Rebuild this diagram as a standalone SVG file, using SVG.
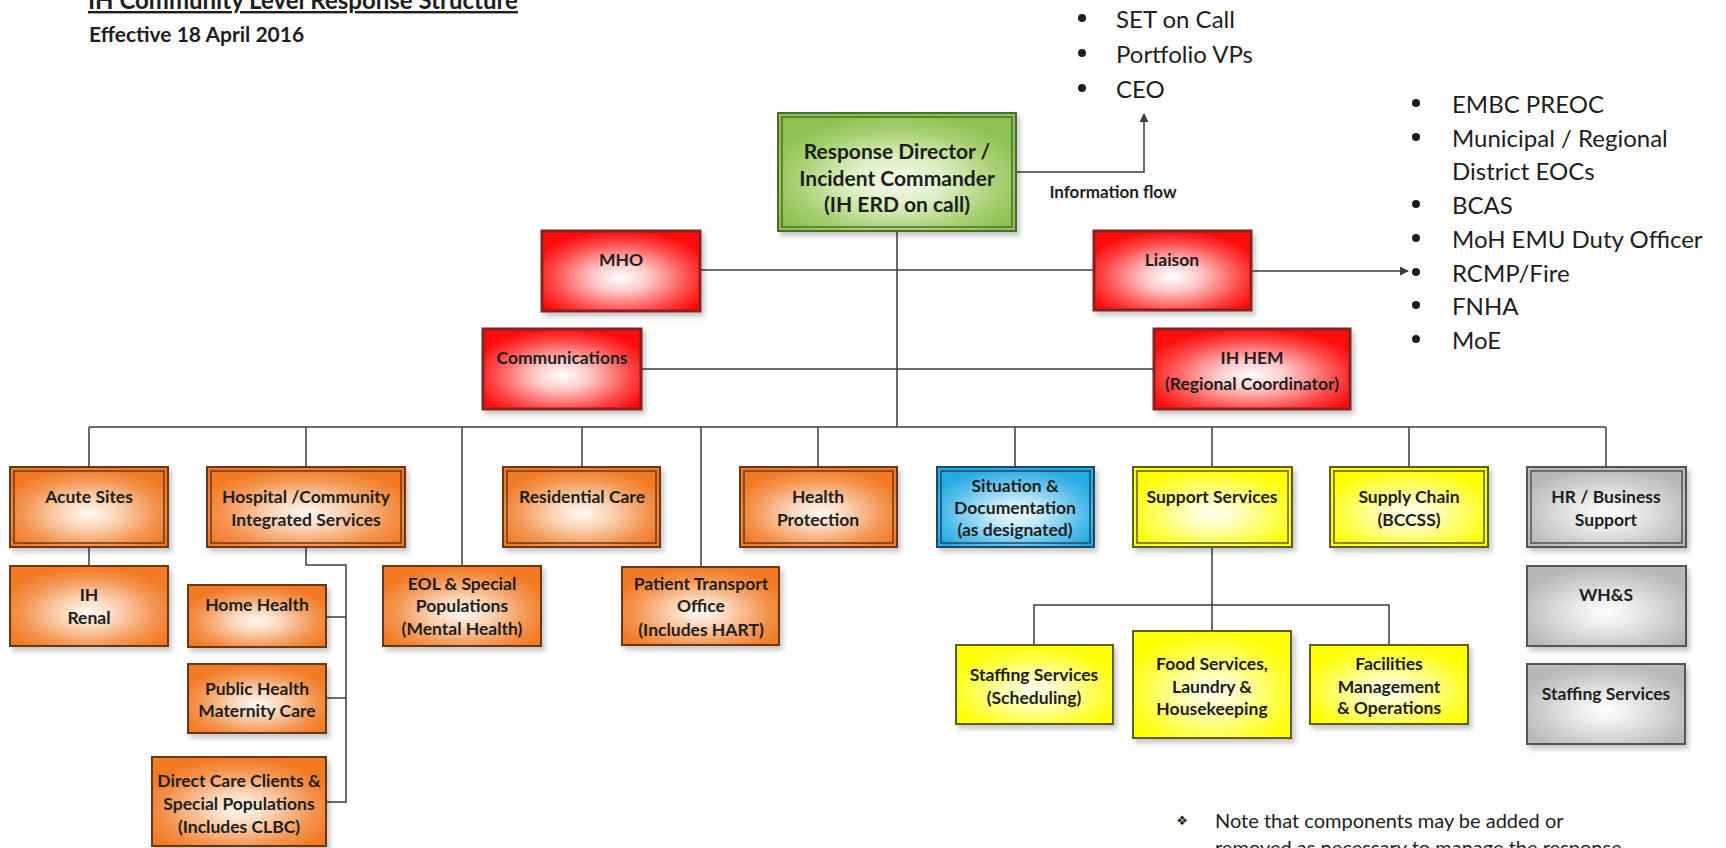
<svg xmlns="http://www.w3.org/2000/svg" width="1726" height="848" viewBox="0 0 1726 848">
<defs>
  <radialGradient id="gGreen" cx="50%" cy="58%" r="58%">
    <stop offset="0" stop-color="#f6fbef"/>
    <stop offset="0.35" stop-color="#dcefc2"/>
    <stop offset="0.75" stop-color="#a6d070"/>
    <stop offset="1" stop-color="#8cc152"/>
  </radialGradient>
  <radialGradient id="gRed" cx="50%" cy="58%" r="58%">
    <stop offset="0" stop-color="#ffffff"/>
    <stop offset="0.3" stop-color="#ffcaca"/>
    <stop offset="0.75" stop-color="#ff4848"/>
    <stop offset="1" stop-color="#ff1010"/>
  </radialGradient>
  <radialGradient id="gOrange" cx="50%" cy="58%" r="58%">
    <stop offset="0" stop-color="#fffaf5"/>
    <stop offset="0.3" stop-color="#fbd6ba"/>
    <stop offset="0.75" stop-color="#f4924c"/>
    <stop offset="1" stop-color="#f27a24"/>
  </radialGradient>
  <radialGradient id="gBlue" cx="50%" cy="58%" r="58%">
    <stop offset="0" stop-color="#f2fbfe"/>
    <stop offset="0.3" stop-color="#bfe8f9"/>
    <stop offset="0.75" stop-color="#52bdea"/>
    <stop offset="1" stop-color="#28aae2"/>
  </radialGradient>
  <radialGradient id="gYellow" cx="50%" cy="58%" r="58%">
    <stop offset="0" stop-color="#fffff2"/>
    <stop offset="0.3" stop-color="#ffffb8"/>
    <stop offset="0.75" stop-color="#ffff3c"/>
    <stop offset="1" stop-color="#ffff00"/>
  </radialGradient>
  <radialGradient id="gGray" cx="50%" cy="58%" r="58%">
    <stop offset="0" stop-color="#ffffff"/>
    <stop offset="0.3" stop-color="#ececec"/>
    <stop offset="0.75" stop-color="#cacaca"/>
    <stop offset="1" stop-color="#b8b8b8"/>
  </radialGradient>
  <filter id="shadow" x="-10%" y="-10%" width="125%" height="130%">
    <feDropShadow dx="3" dy="4" stdDeviation="2.5" flood-color="#000" flood-opacity="0.22"/>
  </filter>
  <marker id="arrow" viewBox="0 0 10 10" refX="9" refY="5" markerWidth="9" markerHeight="9" markerUnits="userSpaceOnUse" orient="auto">
    <path d="M0,0 L10,5 L0,10 Z" fill="#3c3c3c"/>
  </marker>
</defs>
<style>
  .t { font-family: Lato, "Liberation Sans", sans-serif; font-weight: 700; font-size: 17.5px; fill: #1e1e1e; text-anchor: middle; dominant-baseline: central; }
  .big { font-size: 21px; }
  .list { font-family: Lato, "Liberation Sans", sans-serif; font-weight: 400; font-size: 24px; fill: #1e1e1e; dominant-baseline: central; }
  .conn { stroke: #3c3c3c; stroke-width: 1.5; fill: none; }
  .box { filter: url(#shadow); }
  .green { fill: url(#gGreen); stroke: #4b6e2c; stroke-width: 2; }
  .green-in { fill: none; stroke: #4b6e2c; stroke-width: 1.5; }
  .red { fill: url(#gRed); stroke: #8a2222; stroke-width: 3; }
  .orange { fill: url(#gOrange); stroke: #6b3817; stroke-width: 2; }
  .orange-in { fill: none; stroke: #6b3817; stroke-width: 1.5; }
  .blue { fill: url(#gBlue); stroke: #1d4a66; stroke-width: 2; }
  .blue-in { fill: none; stroke: #1d4a66; stroke-width: 1.5; }
  .yellow { fill: url(#gYellow); stroke: #5e5e1c; stroke-width: 2; }
  .yellow-in { fill: none; stroke: #5e5e1c; stroke-width: 1.5; }
  .gray { fill: url(#gGray); stroke: #545454; stroke-width: 2; }
  .gray-in { fill: none; stroke: #545454; stroke-width: 1.5; }
  .dot { fill: #1e1e1e; }
</style>
<rect width="1726" height="848" fill="#ffffff"/>

<g id="header">
  <text x="88" y="9" style="font-family: Lato, 'Liberation Sans', sans-serif; font-weight:700; font-size:24px; fill:#1e1e1e; text-decoration: underline;">IH Community Level Response Structure</text>
  <text x="89" y="42" style="font-family: Lato, 'Liberation Sans', sans-serif; font-weight:700; font-size:21px; fill:#1e1e1e;">Effective 18 April 2016</text>
</g>

<g id="connectors">
  <polyline class="conn" points="1016,172 1144,172 1144,114" marker-end="url(#arrow)"/>
  <line class="conn" x1="897" y1="231" x2="897" y2="427"/>
  <line class="conn" x1="700" y1="270" x2="1094" y2="270"/>
  <line class="conn" x1="1251" y1="271" x2="1408" y2="271" marker-end="url(#arrow)"/>
  <line class="conn" x1="641" y1="369" x2="1154" y2="369"/>
  <line class="conn" x1="89" y1="427" x2="1606" y2="427"/>
  <line class="conn" x1="89" y1="427" x2="89" y2="467"/>
  <line class="conn" x1="306" y1="427" x2="306" y2="467"/>
  <line class="conn" x1="462" y1="427" x2="462" y2="566"/>
  <line class="conn" x1="582" y1="427" x2="582" y2="467"/>
  <line class="conn" x1="701" y1="427" x2="701" y2="567"/>
  <line class="conn" x1="818" y1="427" x2="818" y2="467"/>
  <line class="conn" x1="1015" y1="427" x2="1015" y2="467"/>
  <line class="conn" x1="1212" y1="427" x2="1212" y2="467"/>
  <line class="conn" x1="1409" y1="427" x2="1409" y2="467"/>
  <line class="conn" x1="1606" y1="427" x2="1606" y2="467"/>
  <line class="conn" x1="89" y1="547" x2="89" y2="566"/>
  <polyline class="conn" points="306,547 306,565 346,565 346,802 326,802"/>
  <line class="conn" x1="326" y1="617" x2="346" y2="617"/>
  <line class="conn" x1="326" y1="698" x2="346" y2="698"/>
  <line class="conn" x1="1212" y1="547" x2="1212" y2="631"/>
  <polyline class="conn" points="1034,645 1034,605 1389,605 1389,645"/>
</g>

<g id="list-top">
  <circle class="dot" cx="1082" cy="18" r="4"/>
  <text class="list" x="1116" y="18">SET on Call</text>
  <circle class="dot" cx="1082" cy="53" r="4"/>
  <text class="list" x="1116" y="53">Portfolio VPs</text>
  <circle class="dot" cx="1082" cy="88" r="4"/>
  <text class="list" x="1116" y="88">CEO</text>
</g>

<g id="list-right">
  <circle class="dot" cx="1416" cy="103" r="4"/>
  <text class="list" x="1452" y="103">EMBC PREOC</text>
  <circle class="dot" cx="1416" cy="137" r="4"/>
  <text class="list" x="1452" y="137">Municipal / Regional</text>
  <text class="list" x="1452" y="170">District EOCs</text>
  <circle class="dot" cx="1416" cy="204" r="4"/>
  <text class="list" x="1452" y="204">BCAS</text>
  <circle class="dot" cx="1416" cy="238" r="4"/>
  <text class="list" x="1452" y="238">MoH EMU Duty Officer</text>
  <circle class="dot" cx="1416" cy="272" r="4"/>
  <text class="list" x="1452" y="272">RCMP/Fire</text>
  <circle class="dot" cx="1416" cy="305" r="4"/>
  <text class="list" x="1452" y="305">FNHA</text>
  <circle class="dot" cx="1416" cy="339" r="4"/>
  <text class="list" x="1452" y="339">MoE</text>
</g>

<g id="info-flow-label">
  <text class="t" x="1113" y="191" style="font-size:17px;">Information flow</text>
</g>

<g id="response-director">
  <rect class="green box" x="778" y="113" width="238" height="118"/>
  <rect class="green-in" x="782" y="117" width="230" height="110"/>
  <text class="t big" x="897" y="150">Response Director /</text>
  <text class="t big" x="897" y="177">Incident Commander</text>
  <text class="t big" x="897" y="203">(IH ERD on call)</text>
</g>

<g id="mho">
  <rect class="red box" x="542" y="231" width="158" height="80"/>
  <text class="t" x="621" y="259">MHO</text>
</g>
<g id="liaison">
  <rect class="red box" x="1094" y="231" width="157" height="79"/>
  <text class="t" x="1172" y="259">Liaison</text>
</g>
<g id="communications">
  <rect class="red box" x="483" y="329" width="158" height="80"/>
  <text class="t" x="562" y="357">Communications</text>
</g>
<g id="ih-hem">
  <rect class="red box" x="1154" y="329" width="196" height="80"/>
  <text class="t" x="1252" y="357">IH HEM</text>
  <text class="t" x="1252" y="383">(Regional Coordinator)</text>
</g>

<g id="acute-sites">
  <rect class="orange box" x="10" y="467" width="158" height="80"/>
  <rect class="orange-in" x="14" y="471" width="150" height="72"/>
  <text class="t" x="89" y="496">Acute Sites</text>
</g>
<g id="hospital-community">
  <rect class="orange box" x="207" y="467" width="198" height="80"/>
  <rect class="orange-in" x="211" y="471" width="190" height="72"/>
  <text class="t" x="306" y="496">Hospital /Community</text>
  <text class="t" x="306" y="519">Integrated Services</text>
</g>
<g id="residential-care">
  <rect class="orange box" x="503" y="467" width="157" height="80"/>
  <rect class="orange-in" x="507" y="471" width="149" height="72"/>
  <text class="t" x="582" y="496">Residential Care</text>
</g>
<g id="health-protection">
  <rect class="orange box" x="740" y="467" width="157" height="80"/>
  <rect class="orange-in" x="744" y="471" width="149" height="72"/>
  <text class="t" x="818" y="496">Health</text>
  <text class="t" x="818" y="519">Protection</text>
</g>
<g id="situation">
  <rect class="blue box" x="937" y="467" width="157" height="80"/>
  <rect class="blue-in" x="941" y="471" width="149" height="72"/>
  <text class="t" x="1015" y="485">Situation &amp;</text>
  <text class="t" x="1015" y="507">Documentation</text>
  <text class="t" x="1015" y="529">(as designated)</text>
</g>
<g id="support-services">
  <rect class="yellow box" x="1133" y="467" width="159" height="80"/>
  <rect class="yellow-in" x="1137" y="471" width="151" height="72"/>
  <text class="t" x="1212" y="496">Support Services</text>
</g>
<g id="supply-chain">
  <rect class="yellow box" x="1330" y="467" width="158" height="80"/>
  <rect class="yellow-in" x="1334" y="471" width="150" height="72"/>
  <text class="t" x="1409" y="496">Supply Chain</text>
  <text class="t" x="1409" y="519">(BCCSS)</text>
</g>
<g id="hr-business">
  <rect class="gray box" x="1527" y="467" width="159" height="80"/>
  <rect class="gray-in" x="1531" y="471" width="151" height="72"/>
  <text class="t" x="1606" y="496">HR / Business</text>
  <text class="t" x="1606" y="519">Support</text>
</g>

<g id="ih-renal">
  <rect class="orange box" x="10" y="566" width="158" height="80"/>
  <text class="t" x="89" y="594">IH</text>
  <text class="t" x="89" y="617">Renal</text>
</g>
<g id="home-health">
  <rect class="orange box" x="188" y="585" width="138" height="62"/>
  <text class="t" x="257" y="604">Home Health</text>
</g>
<g id="public-health">
  <rect class="orange box" x="188" y="664" width="138" height="69"/>
  <text class="t" x="257" y="688">Public Health</text>
  <text class="t" x="257" y="710">Maternity Care</text>
</g>
<g id="direct-care">
  <rect class="orange box" x="152" y="757" width="174" height="89"/>
  <text class="t" x="239" y="780">Direct Care Clients &amp;</text>
  <text class="t" x="239" y="803">Special Populations</text>
  <text class="t" x="239" y="826">(Includes CLBC)</text>
</g>
<g id="eol">
  <rect class="orange box" x="383" y="566" width="158" height="80"/>
  <text class="t" x="462" y="583">EOL &amp; Special</text>
  <text class="t" x="462" y="605">Populations</text>
  <text class="t" x="462" y="628">(Mental Health)</text>
</g>
<g id="patient-transport">
  <rect class="orange box" x="622" y="567" width="157" height="78"/>
  <text class="t" x="701" y="583">Patient Transport</text>
  <text class="t" x="701" y="605">Office</text>
  <text class="t" x="701" y="629">(Includes HART)</text>
</g>
<g id="whs">
  <rect class="gray box" x="1527" y="566" width="159" height="80"/>
  <text class="t" x="1606" y="594">WH&amp;S</text>
</g>
<g id="staffing-services-hr">
  <rect class="gray box" x="1527" y="664" width="158" height="80"/>
  <text class="t" x="1606" y="693">Staffing Services</text>
</g>
<g id="staffing-scheduling">
  <rect class="yellow box" x="956" y="645" width="157" height="79"/>
  <text class="t" x="1034" y="674">Staffing Services</text>
  <text class="t" x="1034" y="697">(Scheduling)</text>
</g>
<g id="food-services">
  <rect class="yellow box" x="1133" y="631" width="158" height="107"/>
  <text class="t" x="1212" y="663">Food Services,</text>
  <text class="t" x="1212" y="686">Laundry &amp;</text>
  <text class="t" x="1212" y="708">Housekeeping</text>
</g>
<g id="facilities">
  <rect class="yellow box" x="1310" y="645" width="158" height="79"/>
  <text class="t" x="1389" y="663">Facilities</text>
  <text class="t" x="1389" y="686">Management</text>
  <text class="t" x="1389" y="707">&amp; Operations</text>
</g>

<g id="note">
  <text x="1182" y="820" style="font-family: 'DejaVu Sans', sans-serif; font-size:13px; fill:#1e1e1e; text-anchor: middle; dominant-baseline: central;">❖</text>
  <text class="list" x="1215" y="820" style="font-size:20px;">Note that components may be added or</text>
  <text class="list" x="1215" y="847" style="font-size:20px;">removed as necessary to manage the response</text>
</g>
</svg>
